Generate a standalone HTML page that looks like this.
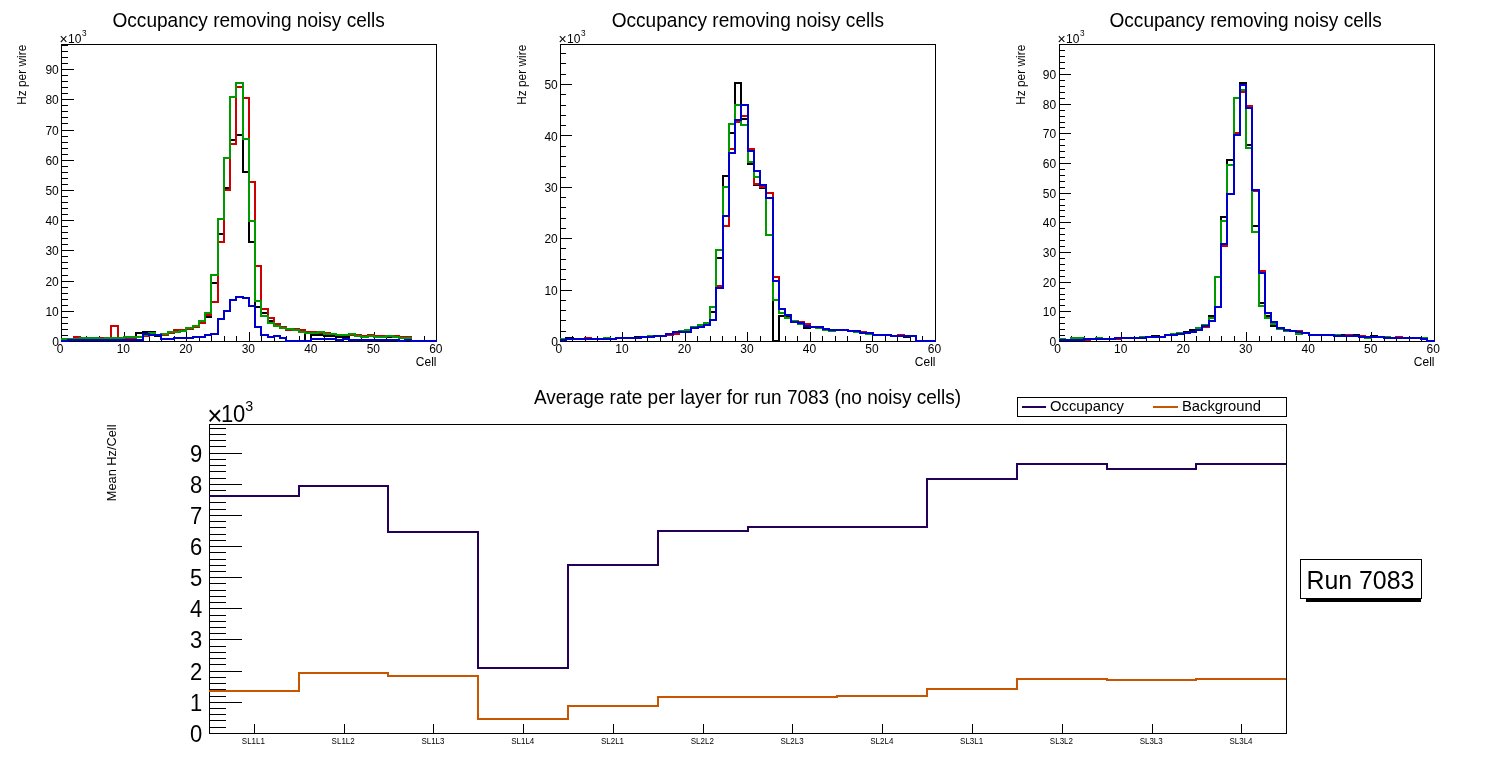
<!DOCTYPE html>
<html lang="en"><head><meta charset="utf-8"><title>Occupancy - Run 7083</title>
<style>html,body{margin:0;padding:0;background:#fff;overflow:hidden}svg{display:block;will-change:transform}text{font-family:"Liberation Sans", Arial, Helvetica, sans-serif;fill:#000}</style></head><body>
<svg width="1496" height="772" viewBox="0 0 1496 772" role="img" aria-label="Occupancy and average rate per layer, run 7083">
<rect width="1496" height="772" fill="#fff"/>
<g>
<rect x="61.5" y="44.5" width="375" height="297" fill="none" stroke="#000" stroke-width="1" shape-rendering="crispEdges"/>
<path d="M61 335.5H68M61 329.5H68M61 323.5H68M61 317.5H68M61 311.5H74M61 305.5H68M61 299.5H68M61 293.5H68M61 287.5H68M61 281.5H74M61 275.5H68M61 268.5H68M61 262.5H68M61 256.5H68M61 250.5H74M61 244.5H68M61 238.5H68M61 232.5H68M61 226.5H68M61 220.5H74M61 214.5H68M61 208.5H68M61 202.5H68M61 196.5H68M61 190.5H74M61 184.5H68M61 178.5H68M61 172.5H68M61 166.5H68M61 160.5H74M61 154.5H68M61 148.5H68M61 142.5H68M61 136.5H68M61 130.5H74M61 123.5H68M61 117.5H68M61 111.5H68M61 105.5H68M61 99.5H74M61 93.5H68M61 87.5H68M61 81.5H68M61 75.5H68M61 69.5H74M61 63.5H68M61 57.5H68M61 51.5H68M61 45.5H68" stroke="#000" stroke-width="1" fill="none" shape-rendering="crispEdges"/>
<path d="M74.5 342V336M86.5 342V336M99.5 342V336M111.5 342V336M124.5 342V332M136.5 342V336M149.5 342V336M161.5 342V336M174.5 342V336M186.5 342V332M199.5 342V336M211.5 342V336M224.5 342V336M236.5 342V336M249.5 342V332M261.5 342V336M274.5 342V336M286.5 342V336M299.5 342V336M311.5 342V332M324.5 342V336M336.5 342V336M349.5 342V336M361.5 342V336M374.5 342V332M386.5 342V336M399.5 342V336M411.5 342V336M424.5 342V336" stroke="#000" stroke-width="1" fill="none" shape-rendering="crispEdges"/>
<path d="M61 339H80V338H99V339H105V338H124V337H136V333H143V332H155V336H161V334H168V332H180V331H186V328H193V326H199V322H205V317H211V283H218V234H224V188H230V140H236V135H243V172H249V242H255V307H261V313H268V321H274V326H280V328H286V329H293V330H299V332H305V341H311V335H324V336H336V337H349V334H355V336H361V337H368V336H374V337H399V338H411V341H437" stroke="#000000" stroke-width="2" fill="none" stroke-linejoin="miter" shape-rendering="crispEdges"/>
<path d="M61 339H74V337H80V338H111V326H118V338H136V337H143V336H149V333H155V335H168V333H174V330H186V329H193V327H199V323H205V315H211V302H218V242H224V190H230V144H236V87H243V98H249V182H255V266H261V309H268V318H274V324H280V327H286V330H293V329H299V330H305V332H318V333H330V334H336V335H361V336H368V335H374V336H399V337H411V341H437" stroke="#cc0000" stroke-width="2" fill="none" stroke-linejoin="miter" shape-rendering="crispEdges"/>
<path d="M61 339H80V338H99V339H105V338H124V337H143V335H149V333H155V335H161V334H168V332H180V331H186V328H193V326H199V321H205V313H211V275H218V219H224V158H230V97H236V83H243V139H249V221H255V301H261V316H268V323H274V326H280V328H286V329H293V330H299V332H305V333H318V332H324V334H336V335H349V334H355V336H361V337H368V336H374V337H386V336H393V337H399V338H411V341H437" stroke="#009900" stroke-width="2" fill="none" stroke-linejoin="miter" shape-rendering="crispEdges"/>
<path d="M61 341H68V340H143V334H149V335H161V339H174V338H193V337H205V335H211V334H218V319H224V311H230V300H236V297H243V298H249V306H255V327H261V335H268V337H274V336H280V338H286V341H311V339H336V340H343V339H349V340H399V341H405V340H411V341H437" stroke="#0000cc" stroke-width="2" fill="none" stroke-linejoin="miter" shape-rendering="crispEdges"/>
<text transform="translate(58.80,346.10) scale(1,1.05)" font-size="12px" text-anchor="end">0</text>
<text transform="translate(58.80,315.89) scale(1,1.05)" font-size="12px" text-anchor="end">10</text>
<text transform="translate(58.80,285.68) scale(1,1.05)" font-size="12px" text-anchor="end">20</text>
<text transform="translate(58.80,255.47) scale(1,1.05)" font-size="12px" text-anchor="end">30</text>
<text transform="translate(58.80,225.26) scale(1,1.05)" font-size="12px" text-anchor="end">40</text>
<text transform="translate(58.80,195.05) scale(1,1.05)" font-size="12px" text-anchor="end">50</text>
<text transform="translate(58.80,164.84) scale(1,1.05)" font-size="12px" text-anchor="end">60</text>
<text transform="translate(58.80,134.63) scale(1,1.05)" font-size="12px" text-anchor="end">70</text>
<text transform="translate(58.80,104.42) scale(1,1.05)" font-size="12px" text-anchor="end">80</text>
<text transform="translate(58.80,74.21) scale(1,1.05)" font-size="12px" text-anchor="end">90</text>
<text transform="translate(60.20,353.10) scale(1,1.05)" font-size="12px" text-anchor="middle">0</text>
<text transform="translate(123.30,353.10) scale(1,1.05)" font-size="12px" text-anchor="middle">10</text>
<text transform="translate(185.80,353.10) scale(1,1.05)" font-size="12px" text-anchor="middle">20</text>
<text transform="translate(248.30,353.10) scale(1,1.05)" font-size="12px" text-anchor="middle">30</text>
<text transform="translate(310.80,353.10) scale(1,1.05)" font-size="12px" text-anchor="middle">40</text>
<text transform="translate(373.30,353.10) scale(1,1.05)" font-size="12px" text-anchor="middle">50</text>
<text transform="translate(435.80,353.10) scale(1,1.05)" font-size="12px" text-anchor="middle">60</text>
<text transform="translate(59.5,43) scale(1,1.05)" font-size="12px"><tspan font-size="14px" dy="1.4">×</tspan><tspan dx="0.3" dy="-1.4">10</tspan><tspan dy="-7" dx="0.6" font-size="8.3px">3</tspan></text>
<text transform="translate(436.50,366.00) scale(1,1.05)" font-size="12px" text-anchor="end">Cell</text>
<text transform="translate(25.80,44.70) rotate(-90) scale(1,1.05)" font-size="11.9px" text-anchor="end">Hz per wire</text>
<text transform="translate(248.65,27.20) scale(1,1.05)" font-size="19.08px" text-anchor="middle">Occupancy removing noisy cells</text>
</g>
<g>
<rect x="560.5" y="44.5" width="375" height="297" fill="none" stroke="#000" stroke-width="1" shape-rendering="crispEdges"/>
<path d="M560 331.5H566M560 320.5H566M560 310.5H566M560 300.5H566M560 290.5H572M560 279.5H566M560 269.5H566M560 259.5H566M560 248.5H566M560 238.5H572M560 228.5H566M560 218.5H566M560 207.5H566M560 197.5H566M560 187.5H572M560 177.5H566M560 166.5H566M560 156.5H566M560 146.5H566M560 135.5H572M560 125.5H566M560 115.5H566M560 105.5H566M560 94.5H566M560 84.5H572M560 74.5H566M560 63.5H566M560 53.5H566" stroke="#000" stroke-width="1" fill="none" shape-rendering="crispEdges"/>
<path d="M572.5 342V336M585.5 342V336M597.5 342V336M610.5 342V336M622.5 342V332M635.5 342V336M647.5 342V336M660.5 342V336M672.5 342V336M685.5 342V332M697.5 342V336M710.5 342V336M722.5 342V336M735.5 342V336M747.5 342V332M760.5 342V336M772.5 342V336M785.5 342V336M797.5 342V336M810.5 342V332M822.5 342V336M835.5 342V336M847.5 342V336M860.5 342V336M872.5 342V332M885.5 342V336M897.5 342V336M910.5 342V336M922.5 342V336" stroke="#000" stroke-width="1" fill="none" shape-rendering="crispEdges"/>
<path d="M560 340H566V338H573V339H616V338H635V337H654V336H666V334H673V332H691V328H698V327H704V325H710V312H716V258H723V176H729V133H735V83H741V119H748V164H754V185H760V188H766V198H773V341H779V316H791V322H798V324H804V328H810V327H823V329H829V330H848V331H860V333H873V335H891V336H904V337H910V336H916V341H936" stroke="#000000" stroke-width="2" fill="none" stroke-linejoin="miter" shape-rendering="crispEdges"/>
<path d="M560 340H566V339H585V338H591V339H616V338H641V337H654V336H666V335H673V334H679V332H685V331H691V328H698V326H704V324H710V320H716V286H723V226H729V149H735V122H741V116H748V149H754V184H760V187H766V193H773V277H779V309H785V315H791V321H798V322H804V324H810V327H823V329H829V330H848V331H860V332H866V333H873V335H891V336H898V335H904V336H916V341H936" stroke="#cc0000" stroke-width="2" fill="none" stroke-linejoin="miter" shape-rendering="crispEdges"/>
<path d="M560 339H604V338H610V339H616V338H641V337H648V336H666V334H673V332H679V331H685V330H691V327H698V325H704V323H710V307H716V250H723V187H729V124H735V105H741V125H748V162H754V177H760V185H766V235H773V300H779V313H785V318H791V321H798V324H804V326H810V327H816V328H823V330H829V331H835V330H848V331H854V332H860V333H866V334H873V335H891V336H916V341H936" stroke="#009900" stroke-width="2" fill="none" stroke-linejoin="miter" shape-rendering="crispEdges"/>
<path d="M560 340H566V339H616V338H641V337H654V336H666V334H673V332H691V328H698V327H704V325H710V320H716V288H723V216H729V153H735V120H741V105H748V151H754V171H760V185H766V198H773V281H779V309H785V315H791V322H798V323H804V326H810V327H823V329H829V330H848V331H860V333H873V335H891V336H916V341H936" stroke="#0000cc" stroke-width="2" fill="none" stroke-linejoin="miter" shape-rendering="crispEdges"/>
<text transform="translate(557.80,346.10) scale(1,1.05)" font-size="12px" text-anchor="end">0</text>
<text transform="translate(557.80,294.70) scale(1,1.05)" font-size="12px" text-anchor="end">10</text>
<text transform="translate(557.80,243.30) scale(1,1.05)" font-size="12px" text-anchor="end">20</text>
<text transform="translate(557.80,191.90) scale(1,1.05)" font-size="12px" text-anchor="end">30</text>
<text transform="translate(557.80,140.50) scale(1,1.05)" font-size="12px" text-anchor="end">40</text>
<text transform="translate(557.80,89.10) scale(1,1.05)" font-size="12px" text-anchor="end">50</text>
<text transform="translate(558.87,353.10) scale(1,1.05)" font-size="12px" text-anchor="middle">0</text>
<text transform="translate(621.97,353.10) scale(1,1.05)" font-size="12px" text-anchor="middle">10</text>
<text transform="translate(684.47,353.10) scale(1,1.05)" font-size="12px" text-anchor="middle">20</text>
<text transform="translate(746.97,353.10) scale(1,1.05)" font-size="12px" text-anchor="middle">30</text>
<text transform="translate(809.47,353.10) scale(1,1.05)" font-size="12px" text-anchor="middle">40</text>
<text transform="translate(871.97,353.10) scale(1,1.05)" font-size="12px" text-anchor="middle">50</text>
<text transform="translate(934.47,353.10) scale(1,1.05)" font-size="12px" text-anchor="middle">60</text>
<text transform="translate(558.5,43) scale(1,1.05)" font-size="12px"><tspan font-size="14px" dy="1.4">×</tspan><tspan dx="0.3" dy="-1.4">10</tspan><tspan dy="-7" dx="0.6" font-size="8.3px">3</tspan></text>
<text transform="translate(935.50,366.00) scale(1,1.05)" font-size="12px" text-anchor="end">Cell</text>
<text transform="translate(526.00,44.70) rotate(-90) scale(1,1.05)" font-size="11.9px" text-anchor="end">Hz per wire</text>
<text transform="translate(747.85,27.20) scale(1,1.05)" font-size="19.08px" text-anchor="middle">Occupancy removing noisy cells</text>
</g>
<g>
<rect x="1059.5" y="44.5" width="375" height="297" fill="none" stroke="#000" stroke-width="1" shape-rendering="crispEdges"/>
<path d="M1059 335.5H1065M1059 329.5H1065M1059 323.5H1065M1059 317.5H1065M1059 311.5H1071M1059 305.5H1065M1059 299.5H1065M1059 294.5H1065M1059 288.5H1065M1059 282.5H1071M1059 276.5H1065M1059 270.5H1065M1059 264.5H1065M1059 258.5H1065M1059 252.5H1071M1059 246.5H1065M1059 240.5H1065M1059 234.5H1065M1059 228.5H1065M1059 222.5H1071M1059 216.5H1065M1059 210.5H1065M1059 205.5H1065M1059 199.5H1065M1059 193.5H1071M1059 187.5H1065M1059 181.5H1065M1059 175.5H1065M1059 169.5H1065M1059 163.5H1071M1059 157.5H1065M1059 151.5H1065M1059 145.5H1065M1059 139.5H1065M1059 133.5H1071M1059 127.5H1065M1059 122.5H1065M1059 116.5H1065M1059 110.5H1065M1059 104.5H1071M1059 98.5H1065M1059 92.5H1065M1059 86.5H1065M1059 80.5H1065M1059 74.5H1071M1059 68.5H1065M1059 62.5H1065M1059 56.5H1065M1059 50.5H1065M1059 44.5H1071" stroke="#000" stroke-width="1" fill="none" shape-rendering="crispEdges"/>
<path d="M1071.5 342V336M1084.5 342V336M1096.5 342V336M1109.5 342V336M1121.5 342V332M1134.5 342V336M1146.5 342V336M1159.5 342V336M1171.5 342V336M1184.5 342V332M1196.5 342V336M1209.5 342V336M1221.5 342V336M1234.5 342V336M1246.5 342V332M1259.5 342V336M1271.5 342V336M1284.5 342V336M1296.5 342V336M1309.5 342V332M1321.5 342V336M1334.5 342V336M1346.5 342V336M1359.5 342V336M1371.5 342V332M1384.5 342V336M1396.5 342V336M1409.5 342V336M1421.5 342V336" stroke="#000" stroke-width="1" fill="none" shape-rendering="crispEdges"/>
<path d="M1059 340H1084V339H1115V338H1146V337H1152V336H1159V337H1165V335H1177V334H1184V332H1190V330H1202V326H1209V316H1215V307H1221V217H1227V160H1234V135H1240V83H1246V145H1252V226H1259V303H1265V316H1271V326H1277V328H1284V330H1290V331H1296V332H1302V333H1309V335H1334V336H1340V335H1346V336H1352V335H1359V337H1371V336H1377V337H1384V338H1421V339H1427V341H1435" stroke="#000000" stroke-width="2" fill="none" stroke-linejoin="miter" shape-rendering="crispEdges"/>
<path d="M1059 340H1090V339H1121V338H1146V337H1165V335H1177V334H1184V333H1190V332H1196V330H1202V327H1209V321H1215V307H1221V246H1227V194H1234V133H1240V92H1246V106H1252V191H1259V271H1265V313H1271V322H1277V328H1284V330H1290V331H1302V333H1309V335H1334V336H1346V335H1352V336H1365V337H1384V338H1396V337H1402V338H1421V339H1427V341H1435" stroke="#cc0000" stroke-width="2" fill="none" stroke-linejoin="miter" shape-rendering="crispEdges"/>
<path d="M1059 339H1065V340H1071V338H1084V339H1096V338H1102V339H1115V338H1140V337H1165V335H1171V334H1177V333H1190V332H1196V328H1202V325H1209V318H1215V277H1221V221H1227V165H1234V98H1240V90H1246V148H1252V232H1259V306H1265V318H1271V324H1277V329H1284V331H1296V334H1302V333H1309V335H1340V336H1359V337H1365V338H1371V337H1390V338H1427V341H1435" stroke="#009900" stroke-width="2" fill="none" stroke-linejoin="miter" shape-rendering="crispEdges"/>
<path d="M1059 340H1084V339H1115V338H1146V337H1165V335H1177V334H1184V333H1190V332H1196V330H1202V326H1209V321H1215V307H1221V244H1227V194H1234V135H1240V85H1246V108H1252V190H1259V273H1265V313H1271V322H1277V328H1284V330H1290V331H1296V332H1302V333H1309V335H1334V336H1359V337H1384V338H1421V339H1427V341H1435" stroke="#0000cc" stroke-width="2" fill="none" stroke-linejoin="miter" shape-rendering="crispEdges"/>
<text transform="translate(1056.20,346.10) scale(1,1.05)" font-size="12px" text-anchor="end">0</text>
<text transform="translate(1056.20,316.44) scale(1,1.05)" font-size="12px" text-anchor="end">10</text>
<text transform="translate(1056.20,286.78) scale(1,1.05)" font-size="12px" text-anchor="end">20</text>
<text transform="translate(1056.20,257.12) scale(1,1.05)" font-size="12px" text-anchor="end">30</text>
<text transform="translate(1056.20,227.46) scale(1,1.05)" font-size="12px" text-anchor="end">40</text>
<text transform="translate(1056.20,197.80) scale(1,1.05)" font-size="12px" text-anchor="end">50</text>
<text transform="translate(1056.20,168.14) scale(1,1.05)" font-size="12px" text-anchor="end">60</text>
<text transform="translate(1056.20,138.48) scale(1,1.05)" font-size="12px" text-anchor="end">70</text>
<text transform="translate(1056.20,108.82) scale(1,1.05)" font-size="12px" text-anchor="end">80</text>
<text transform="translate(1056.20,79.16) scale(1,1.05)" font-size="12px" text-anchor="end">90</text>
<text transform="translate(1057.53,353.10) scale(1,1.05)" font-size="12px" text-anchor="middle">0</text>
<text transform="translate(1120.63,353.10) scale(1,1.05)" font-size="12px" text-anchor="middle">10</text>
<text transform="translate(1183.13,353.10) scale(1,1.05)" font-size="12px" text-anchor="middle">20</text>
<text transform="translate(1245.63,353.10) scale(1,1.05)" font-size="12px" text-anchor="middle">30</text>
<text transform="translate(1308.13,353.10) scale(1,1.05)" font-size="12px" text-anchor="middle">40</text>
<text transform="translate(1370.63,353.10) scale(1,1.05)" font-size="12px" text-anchor="middle">50</text>
<text transform="translate(1433.13,353.10) scale(1,1.05)" font-size="12px" text-anchor="middle">60</text>
<text transform="translate(1057.5,43) scale(1,1.05)" font-size="12px"><tspan font-size="14px" dy="1.4">×</tspan><tspan dx="0.3" dy="-1.4">10</tspan><tspan dy="-7" dx="0.6" font-size="8.3px">3</tspan></text>
<text transform="translate(1434.50,366.00) scale(1,1.05)" font-size="12px" text-anchor="end">Cell</text>
<text transform="translate(1025.00,44.70) rotate(-90) scale(1,1.05)" font-size="11.9px" text-anchor="end">Hz per wire</text>
<text transform="translate(1245.65,27.20) scale(1,1.05)" font-size="19.08px" text-anchor="middle">Occupancy removing noisy cells</text>
</g>
<g>
<rect x="209.5" y="424.5" width="1077" height="309" fill="none" stroke="#000" stroke-width="1" shape-rendering="crispEdges"/>
<path d="M209 727.5H225.5M209 720.5H225.5M209 714.5H225.5M209 708.5H225.5M209 702.5H241.5M209 696.5H225.5M209 689.5H225.5M209 683.5H225.5M209 677.5H225.5M209 671.5H241.5M209 664.5H225.5M209 658.5H225.5M209 652.5H225.5M209 646.5H225.5M209 639.5H241.5M209 633.5H225.5M209 627.5H225.5M209 621.5H225.5M209 615.5H225.5M209 608.5H241.5M209 602.5H225.5M209 596.5H225.5M209 590.5H225.5M209 583.5H225.5M209 577.5H241.5M209 571.5H225.5M209 565.5H225.5M209 559.5H225.5M209 552.5H225.5M209 546.5H241.5M209 540.5H225.5M209 534.5H225.5M209 527.5H225.5M209 521.5H225.5M209 515.5H241.5M209 509.5H225.5M209 502.5H225.5M209 496.5H225.5M209 490.5H225.5M209 484.5H241.5M209 478.5H225.5M209 471.5H225.5M209 465.5H225.5M209 459.5H225.5M209 453.5H241.5M209 446.5H225.5M209 440.5H225.5M209 434.5H225.5M209 428.5H225.5" stroke="#000" stroke-width="1" fill="none" shape-rendering="crispEdges"/>
<path d="M254.5 734V724M344.5 734V724M433.5 734V724M523.5 734V724M613.5 734V724M703.5 734V724M792.5 734V724M882.5 734V724M972.5 734V724M1062.5 734V724M1152.5 734V724M1241.5 734V724" stroke="#000" stroke-width="1" fill="none" shape-rendering="crispEdges"/>
<path d="M209 496H299V486H388V532H478V668H568V565H658V531H748V527H837V527H927V479H1017V464H1107V469H1196V464H1286" stroke="#24005a" stroke-width="2" fill="none" shape-rendering="crispEdges"/>
<path d="M209 691H299V673H388V676H478V719H568V706H658V697H748V697H837V696H927V689H1017V679H1107V680H1196V679H1286" stroke="#c85500" stroke-width="2" fill="none" shape-rendering="crispEdges"/>
<text transform="translate(202.30,741.60) scale(1,1.05)" font-size="22px" text-anchor="end">0</text>
<text transform="translate(202.30,710.60) scale(1,1.05)" font-size="22px" text-anchor="end">1</text>
<text transform="translate(202.30,679.60) scale(1,1.05)" font-size="22px" text-anchor="end">2</text>
<text transform="translate(202.30,647.60) scale(1,1.05)" font-size="22px" text-anchor="end">3</text>
<text transform="translate(202.30,616.60) scale(1,1.05)" font-size="22px" text-anchor="end">4</text>
<text transform="translate(202.30,585.60) scale(1,1.05)" font-size="22px" text-anchor="end">5</text>
<text transform="translate(202.30,554.60) scale(1,1.05)" font-size="22px" text-anchor="end">6</text>
<text transform="translate(202.30,523.60) scale(1,1.05)" font-size="22px" text-anchor="end">7</text>
<text transform="translate(202.30,492.60) scale(1,1.05)" font-size="22px" text-anchor="end">8</text>
<text transform="translate(202.30,461.60) scale(1,1.05)" font-size="22px" text-anchor="end">9</text>
<text transform="translate(0,422) scale(1,1.05)" font-size="22px"><tspan x="207.3" y="3" font-size="26px">×</tspan><tspan x="220.9" y="0">10</tspan><tspan x="245.2" y="-10.2" font-size="14.3px">3</tspan></text>
<text transform="translate(253.39,744.30) scale(1,1.05)" font-size="8px" text-anchor="middle">SL1L1</text>
<text transform="translate(343.17,744.30) scale(1,1.05)" font-size="8px" text-anchor="middle">SL1L2</text>
<text transform="translate(432.95,744.30) scale(1,1.05)" font-size="8px" text-anchor="middle">SL1L3</text>
<text transform="translate(522.73,744.30) scale(1,1.05)" font-size="8px" text-anchor="middle">SL1L4</text>
<text transform="translate(612.51,744.30) scale(1,1.05)" font-size="8px" text-anchor="middle">SL2L1</text>
<text transform="translate(702.29,744.30) scale(1,1.05)" font-size="8px" text-anchor="middle">SL2L2</text>
<text transform="translate(792.07,744.30) scale(1,1.05)" font-size="8px" text-anchor="middle">SL2L3</text>
<text transform="translate(881.85,744.30) scale(1,1.05)" font-size="8px" text-anchor="middle">SL2L4</text>
<text transform="translate(971.63,744.30) scale(1,1.05)" font-size="8px" text-anchor="middle">SL3L1</text>
<text transform="translate(1061.41,744.30) scale(1,1.05)" font-size="8px" text-anchor="middle">SL3L2</text>
<text transform="translate(1151.19,744.30) scale(1,1.05)" font-size="8px" text-anchor="middle">SL3L3</text>
<text transform="translate(1240.97,744.30) scale(1,1.05)" font-size="8px" text-anchor="middle">SL3L4</text>
<text transform="translate(116.20,424.50) rotate(-90) scale(1,1.05)" font-size="12.8px" text-anchor="end">Mean Hz/Cell</text>
<text transform="translate(747.50,404.20) scale(1,1.05)" font-size="19px" text-anchor="middle">Average rate per layer for run 7083 (no noisy cells)</text>
<rect x="1017.5" y="397.5" width="269" height="19" fill="#fff" stroke="#000" stroke-width="1" shape-rendering="crispEdges"/>
<path d="M1022 407H1046" stroke="#24005a" stroke-width="2" shape-rendering="crispEdges"/>
<path d="M1153 407H1178" stroke="#c85500" stroke-width="2" shape-rendering="crispEdges"/>
<text transform="translate(1050.00,411.20) scale(1,1.05)" font-size="14.8px">Occupancy</text>
<text transform="translate(1182.00,411.20) scale(1,1.05)" font-size="14.8px">Background</text>
<rect x="1306" y="599" width="115" height="3" fill="#000" shape-rendering="crispEdges"/>
<rect x="1300.5" y="559.5" width="121" height="39" fill="#fff" stroke="#000" stroke-width="1" shape-rendering="crispEdges"/>
<text transform="translate(1360.40,589.20) scale(1,1.05)" font-size="24.9px" text-anchor="middle">Run 7083</text>
</g>
</svg></body></html>
